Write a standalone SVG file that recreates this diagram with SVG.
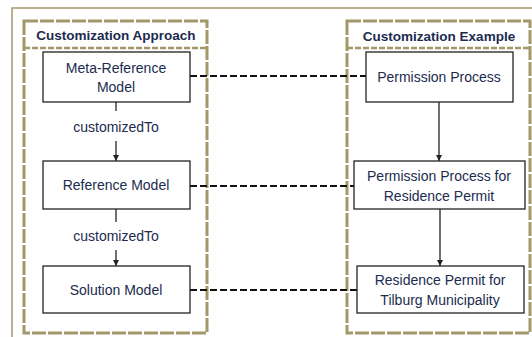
<svg xmlns="http://www.w3.org/2000/svg" width="532" height="337" viewBox="0 0 532 337">
<style>
.frame{fill:none;stroke:#a39869;stroke-width:1.5}
.panel{fill:#fff;stroke:#a39869;stroke-width:3;stroke-dasharray:14 2}
.sep{fill:none;stroke:#a39869;stroke-width:2.5;stroke-dasharray:6 2}
.box{fill:#fff;stroke:#222;stroke-width:1.3}
.t{font-family:"Liberation Sans",Arial,sans-serif;font-size:14px;fill:#1c2b4f;text-anchor:middle}
.tb{font-family:"Liberation Sans",Arial,sans-serif;font-size:13.5px;font-weight:bold;fill:#1c2b4f;text-anchor:middle}
.arr{fill:none;stroke:#222;stroke-width:1.3}
.link{fill:none;stroke:#111;stroke-width:2;stroke-dasharray:7 3}
</style>
<defs>
<marker id="ah" markerWidth="8" markerHeight="8" refX="7" refY="4" orient="auto" markerUnits="userSpaceOnUse">
<path d="M1,1 L7,4 L1,7 Z" fill="#222"/>
</marker>
</defs>
<rect width="532" height="337" fill="#fff"/>
<rect class="frame" x="12" y="8" width="540" height="340"/>
<g id="panel-approach">
<rect class="panel" x="24" y="21" width="183" height="312"/>
<line class="sep" x1="24" y1="48" x2="207" y2="48"/>
<text class="tb" x="116" y="40">Customization Approach</text>
</g>
<g id="panel-example">
<rect class="panel" x="347" y="21" width="183" height="312"/>
<line class="sep" x1="347" y1="48" x2="530" y2="48"/>
<text class="tb" x="439" y="41">Customization Example</text>
</g>
<g id="connectors">
<line class="link" x1="190" y1="76" x2="366" y2="76"/>
<line class="link" x1="190" y1="186" x2="354" y2="186"/>
<line class="link" x1="190" y1="290" x2="357" y2="290"/>
<line class="arr" x1="116" y1="102" x2="116" y2="111"/>
<line class="arr" x1="116" y1="141" x2="116" y2="161" marker-end="url(#ah)"/>
<line class="arr" x1="116" y1="209" x2="116" y2="222"/>
<line class="arr" x1="116" y1="250" x2="116" y2="266" marker-end="url(#ah)"/>
<line class="arr" x1="439" y1="102" x2="439" y2="161" marker-end="url(#ah)"/>
<line class="arr" x1="440" y1="209" x2="440" y2="266" marker-end="url(#ah)"/>
<text class="t" x="116" y="132">customizedTo</text>
<text class="t" x="116" y="241">customizedTo</text>
</g>
<g id="meta-reference-model">
<rect class="box" x="43" y="52" width="147" height="50"/>
<text class="t" x="116" y="73">Meta-Reference</text>
<text class="t" x="116" y="92">Model</text>
</g>
<g id="reference-model">
<rect class="box" x="43" y="161" width="147" height="48"/>
<text class="t" x="116" y="190">Reference Model</text>
</g>
<g id="solution-model">
<rect class="box" x="43" y="266" width="147" height="47"/>
<text class="t" x="116" y="295">Solution Model</text>
</g>
<g id="permission-process">
<rect class="box" x="366" y="52" width="147" height="50"/>
<text class="t" x="439" y="82">Permission Process</text>
</g>
<g id="permission-process-residence">
<rect class="box" x="354" y="161" width="171" height="48"/>
<text class="t" x="439" y="181">Permission Process for</text>
<text class="t" x="439" y="201">Residence Permit</text>
</g>
<g id="residence-permit-tilburg">
<rect class="box" x="357" y="266" width="167" height="47"/>
<text class="t" x="440" y="285">Residence Permit for</text>
<text class="t" x="440" y="305">Tilburg Municipality</text>
</g>
</svg>
